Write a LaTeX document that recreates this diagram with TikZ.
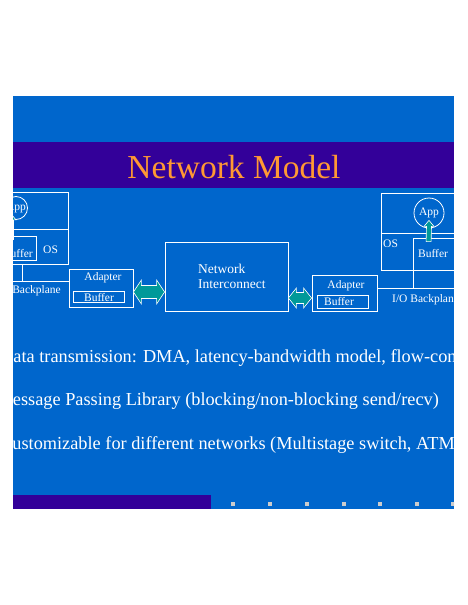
\documentclass[tikz,border=0pt]{standalone}
\usepackage{fontspec}
\setmainfont{Liberation Serif}
\usetikzlibrary{calc,positioning}
\definecolor{slideblue}{HTML}{0066CC}
\definecolor{slidepurple}{HTML}{330099}
\definecolor{titleorange}{HTML}{FF9933}
\definecolor{arrowteal}{HTML}{009999}
\definecolor{navgray}{HTML}{CCCCCC}
\tikzset{
 box/.style={draw=white, line width=0.8pt, inner sep=0pt},
 wire/.style={draw=white, line width=0.8pt},
 lbl/.style={text=white, font=\fontsize{11.5}{13}\selectfont, inner sep=0pt},
 netlbl/.style={text=white, font=\fontsize{13.5}{15}\selectfont, inner sep=0pt, anchor=base west},
 bulletline/.style={text=white, font=\fontsize{18.3}{22}\selectfont, inner sep=0pt, anchor=base west},
 blockarrow/.style={draw=white, fill=arrowteal, line width=0.6pt, line join=miter}
}
% horizontal double block arrow: #1 left tip, #2 right tip, #3 half head, #4 half shaft
\newcommand{\bidir}[4]{%
\draw[blockarrow] (#1) -- ($(#1)+(8,-#3)$) -- ($(#1)+(8,-#4)$) -- ($(#2)+(-8,-#4)$) -- ($(#2)+(-8,-#3)$) -- (#2)
 -- ($(#2)+(-8,#3)$) -- ($(#2)+(-8,#4)$) -- ($(#1)+(8,#4)$) -- ($(#1)+(8,#3)$) -- cycle;}
% upward block arrow: #1 tail, #2 tip
\newcommand{\uparr}[2]{%
\draw[blockarrow] ($(#1)+(-2.5,0)$) -- ($(#2)+(-2.5,6)$) -- ($(#2)+(-5,6)$) -- (#2) -- ($(#2)+(5,6)$) -- ($(#2)+(2.5,6)$) -- ($(#1)+(2.5,0)$) -- cycle;}

\begin{document}
\begin{tikzpicture}[x=1pt,y=-1pt]
\useasboundingbox (0,0) rectangle (468,605);
\begin{scope}
\clip (13,96) rectangle (454,509);
\fill[slideblue] (13,96) rectangle (454,509);
\fill[slidepurple] (13,142) rectangle (454,188);
\fill[slidepurple] (13,495) rectangle (211,509);
\node[text=titleorange, font=\fontsize{33.5}{40}\selectfont, inner sep=0pt, anchor=base] (title) at (234,178) {Network Model};

% left host
\draw[wire] (-60,192) rectangle (68,264);
\draw[wire] (-60,229) -- (68,229);
\node[box, circle, minimum size=23pt] (appL) at (16,208) {};
\node[lbl] (appLtxt) at (appL) {App};
\node[box, minimum width=36pt, minimum height=24pt] (bufL) at (18,248) {};
\node[lbl, anchor=base east] (bufLtxt) at (33,257) {Buffer};
\node[lbl, anchor=base west] (osL) at (43,253) {OS};
\coordinate (tailL) at ($(bufL.north)+(-7,4)$);
\coordinate (tipL) at ($(appL.south)+(-5,-6)$);
\uparr{tailL}{tipL}
\draw[wire] (22,264) -- (22,281);
\node[lbl, anchor=base east] (bpL) at (61,293) {I/O Backplane};

% right host
\draw[wire] (381,193) rectangle (520,270);
\draw[wire] (381,233) -- (520,233);
\node[box, circle, minimum size=30pt] (appR) at (429,213) {};
\node[lbl] (appRtxt) at (appR) {App};
\node[box, minimum width=80pt, minimum height=32pt] (bufR) at (453,254) {};
\node[lbl, anchor=base west] (bufRtxt) at (418,257) {Buffer};
\node[lbl, anchor=base west] (osR) at (383,247) {OS};
\coordinate (tailR) at ($(bufR.north west)+(16,4)$);
\coordinate (tipR) at ($(appR.south)+(0,-8)$);
\uparr{tailR}{tipR}
\draw[wire] (413,270) -- (413,288);
\node[lbl, anchor=base west] (bpR) at (392,302) {I/O Backplane};

% adapters
\node[box, minimum width=64pt, minimum height=38pt] (adL) at (101,288) {};
\node[lbl, anchor=base] (adLtxt) at (103,280) {Adapter};
\node[box, minimum width=51pt, minimum height=11pt] (abL) at (98.5,296.5) {};
\node[lbl, anchor=base] (abLtxt) at (99,301) {Buffer};
\node[box, minimum width=65pt, minimum height=36pt] (adR) at (344.5,293) {};
\node[lbl, anchor=base] (adRtxt) at (346,288) {Adapter};
\node[box, minimum width=51pt, minimum height=13pt] (abR) at (342.5,301.5) {};
\node[lbl, anchor=base] (abRtxt) at (339,305) {Buffer};

% backplanes
\coordinate (bpyL) at (0,281);
\coordinate (bpyR) at (0,288);
\draw[wire] (-20,281) -- (adL.west |- bpyL);
\draw[wire] (adR.east |- bpyR) -- (520,288);

% network
\node[box, minimum width=123pt, minimum height=69pt] (net) at (226.5,276.5) {};
\node[netlbl] (net1) at (198,273) {Network};
\node[netlbl] (net2) at (198,288) {Interconnect};

% links
\coordinate (lkL) at (0,292);
\coordinate (lkR) at (0,298);
\bidir{adL.east |- lkL}{net.west |- lkL}{12}{6.5}
\bidir{net.east |- lkR}{adR.west |- lkR}{10}{5.5}

% text lines
\node[bulletline] (ln1) at (0,362) {Data transmission: DMA, latency-bandwidth model, flow-control};
\node[bulletline] (ln2) at (-3.5,405) {Message Passing Library (blocking/non-blocking send/recv)};
\node[bulletline] (ln3) at (0,449) {Customizable for different networks (Multistage switch, ATM)};

% navigation marks
\foreach \x in {233,270,307,344,380,417,453}{
\fill[navgray] (\x-2,502) rectangle (\x+2,506);}
\end{scope}
\end{tikzpicture}
\end{document}
